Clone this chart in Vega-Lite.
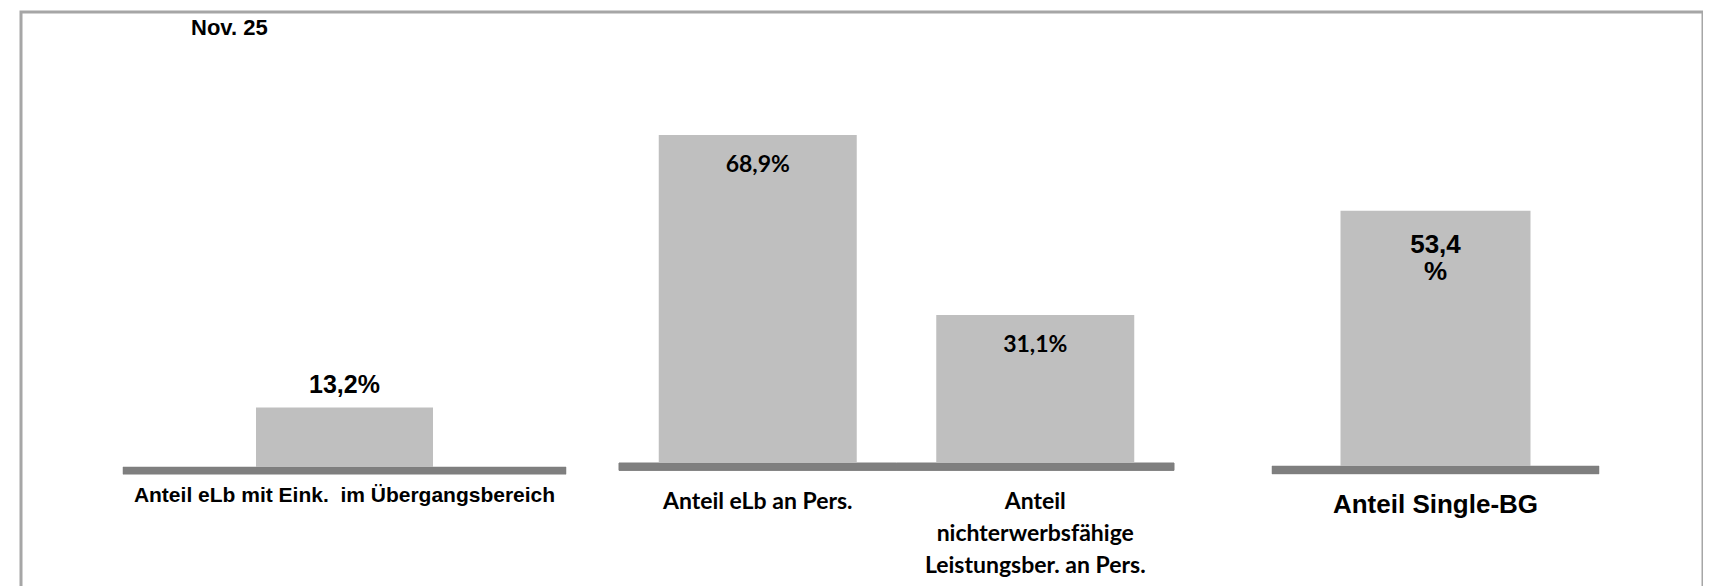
{
  "$schema": "https://vega.github.io/schema/vega-lite/v6.json",
  "width": 1682,
  "height": 600,
  "autosize": {"type": "none"},
  "padding": {"left": 21, "top": 12, "right": 0, "bottom": 0},
  "background": "white",
  "config": {"view": {"stroke": "#a6a6a6", "strokeWidth": 3}},
  "title": {"text": "Nov. 25", "anchor": "start", "frame": "group", "dx": 170, "offset": -28, "font": "Liberation Sans", "fontSize": 22, "fontWeight": "bold", "color": "#000000"},
  "data": {
    "values": [
      {"panel": "p1", "kategorie": "Anteil eLb mit Eink.  im Übergangsbereich", "label": "Anteil eLb mit Eink.\u00a0 im Übergangsbereich", "anteil": 13.2, "wert": "13,2%"},
      {"panel": "p2", "kategorie": "Anteil eLb an Pers.", "label": "Anteil eLb an Pers.", "anteil": 68.9, "wert": "68,9%"},
      {"panel": "p2", "kategorie": "Anteil nichterwerbsfähige Leistungsber. an Pers.", "label": ["Anteil", "nichterwerbsfähige", "Leistungsber. an Pers."], "anteil": 31.1, "wert": "31,1%"},
      {"panel": "p3", "kategorie": "Anteil Single-BG", "label": "Anteil Single-BG", "anteil": 53.4, "wert": ["53,4", "%"]}
    ]
  },
  "resolve": {"scale": {"x": "independent", "y": "independent"}},
  "layer": [
    {
      "transform": [{"filter": "datum.panel === 'p1'"}],
      "encoding": {"x": {"field": "kategorie", "type": "nominal", "axis": null, "sort": null, "scale": {"range": [102, 545], "paddingInner": 0, "paddingOuter": 0}}},
      "layer": [
        {"mark": {"type": "bar", "color": "#7f7f7f", "stroke": "#7f7f7f", "strokeWidth": 0.5}, "encoding": {"y": {"datum": 0, "type": "quantitative", "axis": null, "scale": {"domain": [-32.22, 101.11]}}, "y2": {"datum": -1.6}}},
        {"mark": {"type": "bar", "color": "#bfbfbf", "width": 177}, "encoding": {"y": {"field": "anteil", "type": "quantitative", "axis": null, "scale": {"domain": [-32.22, 101.11]}}}},
        {"mark": {"type": "text", "font": "Liberation Sans", "fontSize": 25, "fontWeight": "bold", "color": "#000000", "baseline": "alphabetic", "dy": -15}, "encoding": {"y": {"field": "anteil", "type": "quantitative", "axis": null, "scale": {"domain": [-32.22, 101.11]}}, "text": {"field": "wert"}}},
        {"mark": {"type": "text", "font": "Liberation Sans", "fontSize": 21, "fontWeight": "bold", "color": "#000000", "baseline": "alphabetic", "dy": 35}, "encoding": {"y": {"datum": 0, "type": "quantitative", "axis": null, "scale": {"domain": [-32.22, 101.11]}}, "text": {"field": "label"}}}
      ]
    },
    {
      "transform": [{"filter": "datum.panel === 'p2'"}],
      "encoding": {"x": {"field": "kategorie", "type": "nominal", "axis": null, "sort": null, "scale": {"range": [598, 1153], "paddingInner": 0, "paddingOuter": 0}}},
      "layer": [
        {"mark": {"type": "bar", "color": "#7f7f7f", "stroke": "#7f7f7f", "strokeWidth": 1}, "encoding": {"y": {"datum": 0, "type": "quantitative", "axis": null, "scale": {"domain": [-31.3, 94.75]}}, "y2": {"datum": -1.55}}},
        {"mark": {"type": "bar", "color": "#bfbfbf", "width": 198}, "encoding": {"y": {"field": "anteil", "type": "quantitative", "axis": null, "scale": {"domain": [-31.3, 94.75]}}}},
        {"mark": {"type": "text", "font": "Lato", "fontSize": 23, "fontWeight": "bold", "color": "#000000", "baseline": "alphabetic", "dy": 37}, "encoding": {"y": {"field": "anteil", "type": "quantitative", "axis": null, "scale": {"domain": [-31.3, 94.75]}}, "text": {"field": "wert"}}},
        {"mark": {"type": "text", "font": "Lato", "fontSize": 23, "fontWeight": "bold", "color": "#000000", "baseline": "alphabetic", "dy": 46, "lineHeight": 32}, "encoding": {"y": {"datum": 0, "type": "quantitative", "axis": null, "scale": {"domain": [-31.3, 94.75]}}, "text": {"field": "label"}}}
      ]
    },
    {
      "transform": [{"filter": "datum.panel === 'p3'"}],
      "encoding": {"x": {"field": "kategorie", "type": "nominal", "axis": null, "sort": null, "scale": {"range": [1251, 1578], "paddingInner": 0, "paddingOuter": 0}}},
      "layer": [
        {"mark": {"type": "bar", "color": "#7f7f7f", "stroke": "#7f7f7f", "strokeWidth": 0.5}, "encoding": {"y": {"datum": 0, "type": "quantitative", "axis": null, "scale": {"domain": [-30.54, 94.98]}}, "y2": {"datum": -1.65}}},
        {"mark": {"type": "bar", "color": "#bfbfbf", "width": 190}, "encoding": {"y": {"field": "anteil", "type": "quantitative", "axis": null, "scale": {"domain": [-30.54, 94.98]}}}},
        {"mark": {"type": "text", "font": "Liberation Sans", "fontSize": 26, "fontWeight": "bold", "color": "#000000", "baseline": "alphabetic", "dy": 42, "lineHeight": 27}, "encoding": {"y": {"field": "anteil", "type": "quantitative", "axis": null, "scale": {"domain": [-30.54, 94.98]}}, "text": {"field": "wert"}}},
        {"mark": {"type": "text", "font": "Liberation Sans", "fontSize": 26, "fontWeight": "bold", "color": "#000000", "baseline": "alphabetic", "dy": 47}, "encoding": {"y": {"datum": 0, "type": "quantitative", "axis": null, "scale": {"domain": [-30.54, 94.98]}}, "text": {"field": "label"}}}
      ]
    }
  ]
}
